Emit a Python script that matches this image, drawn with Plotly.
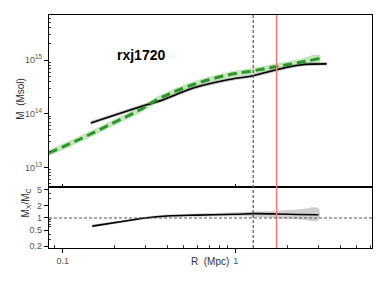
import numpy as np
import plotly.graph_objects as go

# ---- data ----
# green dashed profile with band (top panel)
green_R = [0.083, 0.126, 0.2, 0.282, 0.363, 0.562, 0.891, 1.26, 1.72, 2.29, 3.05]
green_logM = [13.27, 13.53, 13.845, 14.08, 14.29, 14.54, 14.72, 14.80, 14.88, 14.95, 15.03]
green_err = [0.06, 0.06, 0.058, 0.055, 0.055, 0.055, 0.055, 0.058, 0.062, 0.066, 0.07]

# black profile (top panel)
black_R = [0.145, 0.306, 0.364, 0.568, 0.883, 1.26, 1.72, 2.34, 3.35]
black_logM = [13.83, 14.17, 14.24, 14.48, 14.63, 14.71, 14.82, 14.91, 14.93]

# ratio panel
ratio_R = [0.148, 0.245, 0.30, 0.40, 0.60, 1.0, 1.26, 1.72, 2.3, 3.0]
ratio_val = [0.63, 0.88, 1.0, 1.12, 1.18, 1.24, 1.28, 1.26, 1.22, 1.2]
ratio_lo = [0.58, 0.82, 0.93, 1.04, 1.08, 1.1, 1.08, 1.0, 0.93, 0.88]
ratio_hi = [0.69, 0.95, 1.08, 1.22, 1.3, 1.38, 1.45, 1.52, 1.62, 1.75]

vline_dashed_R = 1.26
vline_red_R = 1.72

title_text = "rxj1720"

# ---- figure ----
fig = go.Figure()

gM = np.array(green_logM)
gE = np.array(green_err)
fig.add_trace(go.Scatter(x=green_R + green_R[::-1],
                         y=list(10 ** (gM + gE)) + list(10 ** (gM - gE))[::-1],
                         fill="toself", fillcolor="#c6e5bf", line=dict(width=0, shape="spline"),
                         mode="lines", hoverinfo="skip", showlegend=False,
                         xaxis="x", yaxis="y"))
bM = np.array(black_logM)
fig.add_trace(go.Scatter(x=black_R, y=10 ** bM, mode="lines",
                         line=dict(color="rgba(120,120,120,0.45)", width=3.5, shape="spline"),
                         showlegend=False, xaxis="x", yaxis="y"))
fig.add_trace(go.Scatter(x=black_R, y=10 ** bM, mode="lines",
                         line=dict(color="black", width=1.6, shape="spline"),
                         showlegend=False, xaxis="x", yaxis="y"))
fig.add_trace(go.Scatter(x=green_R, y=10 ** gM, mode="lines",
                         line=dict(color="#2a962a", width=3, dash="9px,5px", shape="spline"),
                         showlegend=False, xaxis="x", yaxis="y"))

# ratio panel
fig.add_trace(go.Scatter(x=ratio_R + ratio_R[::-1], y=ratio_hi + ratio_lo[::-1],
                         fill="toself", fillcolor="rgba(160,160,160,0.5)",
                         line=dict(width=0, shape="spline"),
                         mode="lines", hoverinfo="skip", showlegend=False,
                         xaxis="x2", yaxis="y2"))
fig.add_trace(go.Scatter(x=ratio_R, y=ratio_val, mode="lines",
                         line=dict(color="black", width=1.6, shape="spline"),
                         showlegend=False, xaxis="x2", yaxis="y2"))

font_family = "Liberation Sans, Arial, sans-serif"
tickfont = dict(family=font_family, size=9, color="#555")
minor_x = [0.09] + [0.1 * k for k in range(2, 10)] + [float(k) for k in range(2, 7)]
minor_y = [10 ** e * k for e in (12, 13, 14, 15) for k in range(2, 10)]
minor_y2 = [0.3, 0.4, 0.6, 0.7, 0.8, 0.9, 3, 4]

common = dict(showline=True, linecolor="black", linewidth=1.2, mirror=True,
              showgrid=False, zeroline=False, type="log")

# the page body adds an 8px offset; the figure is sized to fit the 385x289 window
fig.update_layout(
    width=377, height=281,
    margin=dict(l=41, r=13, t=5, b=41),
    plot_bgcolor="white", paper_bgcolor="white",
    xaxis=dict(**common, domain=[0, 1], anchor="y", range=[-1.08, 0.787],
               tickvals=[0.1, 1], showticklabels=False, ticks="inside", ticklen=3,
               tickcolor="black", matches="x2"),
    yaxis=dict(**common, domain=[0.2605, 1], anchor="x", range=[12.63, 15.84],
               tickvals=[1e13, 1e14, 1e15],
               ticktext=["10<sup>13</sup>", "10<sup>14</sup>", "10<sup>15</sup>"],
               ticks="outside", ticklen=4, tickcolor="black", tickfont=tickfont,
               minor=dict(tickvals=minor_y, ticks="inside", ticklen=2, tickcolor="#444")),
    xaxis2=dict(**common, domain=[0, 1], anchor="y2", range=[-1.08, 0.787],
                tickvals=[0.1, 1], ticktext=["0.1", "1"], ticks="outside", ticklen=4,
                tickcolor="black", tickfont=tickfont,
                minor=dict(tickvals=minor_x, ticks="inside", ticklen=3, tickcolor="#444")),
    yaxis2=dict(**common, domain=[0, 0.2605], anchor="x2", range=[-0.743, 0.76],
                tickvals=[0.2, 0.5, 1, 2, 5], ticktext=["0.2", "0.5", "1", "2", "5"],
                ticks="outside", ticklen=4, tickcolor="black", tickfont=tickfont,
                minor=dict(tickvals=minor_y2, ticks="inside", ticklen=2, tickcolor="#444")),
    shapes=[
        dict(type="line", xref="x", yref="paper", x0=vline_dashed_R,
             x1=vline_dashed_R, y0=0, y1=1,
             line=dict(color="#555", width=1.2, dash="3px,2px")),
        dict(type="line", xref="x", yref="paper", x0=vline_red_R,
             x1=vline_red_R, y0=0, y1=1,
             line=dict(color="#f27a7a", width=1.5)),
        dict(type="line", xref="x2 domain", yref="y2", x0=0, x1=1, y0=1, y1=1,
             line=dict(color="#555", width=1, dash="3px,2px")),
    ],
    annotations=[
        dict(text="<b>" + title_text + "</b>", xref="paper", yref="paper", x=0.204, y=0.871,
             showarrow=False, font=dict(family=font_family, size=14, color="black")),
        dict(text="M  (Msol)", xref="paper", yref="paper", x=-0.112, y=0.642, textangle=-90,
             showarrow=False, font=dict(family=font_family, size=10, color="#333")),
        dict(text="M<sub>X</sub>/M<sub>C</sub>", xref="paper", yref="paper", x=-0.097, y=0.123,
             textangle=-90, showarrow=False,
             font=dict(family=font_family, size=10, color="#333")),
        dict(text="R  (Mpc)", xref="paper", yref="paper", x=0.498, y=-0.089,
             showarrow=False, font=dict(family=font_family, size=10, color="#333")),
    ],
)

fig.write_html("out.html")
